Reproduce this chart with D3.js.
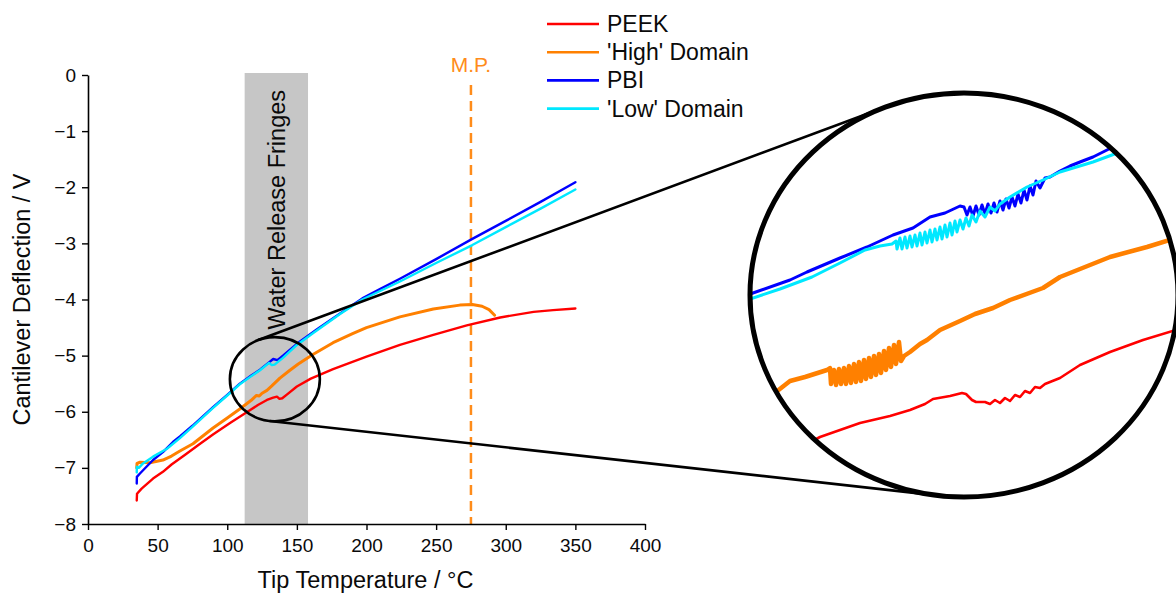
<!DOCTYPE html>
<html><head><meta charset="utf-8">
<script src="https://cdn.jsdelivr.net/npm/d3@7/dist/d3.min.js"></script>
<style>
html,body{margin:0;padding:0;background:#fff;}
svg{display:block;font-family:"Liberation Sans",Arial,sans-serif;}
</style></head><body>
<svg id="chart" width="1176" height="594"></svg>
<script>
// ---------- data ----------
const seriesNames = ["PEEK", "'High' Domain", "PBI", "'Low' Domain"];
const seriesColors = ["#ff0000", "#ff8000", "#0000ff", "#00e8ff"];
const xTicks = [0, 50, 100, 150, 200, 250, 300, 350, 400];
const yTicks = [0, -1, -2, -3, -4, -5, -6, -7, -8];
const fringeBand = [112.5, 158];
const meltingPoint = 275;
const zoomCenter = [134.2, -5.42];
const zoomRadius = [32.3, 0.75];
const insetDomainT = [113, 155.8];
const insetDomainV = [-4.4, -6.42];

const peek = [[35.0,-7.58],[35.2,-7.46],[38.5,-7.37],[46.7,-7.19],[53.8,-7.07],[60,-6.94],[70,-6.76],[80,-6.58],[90,-6.40],[102,-6.20],[114,-6.01],[122,-5.88],[128.5,-5.79],[133,-5.75],[135.7,-5.73],[137.5,-5.77],[139.5,-5.76],[143,-5.69],[150,-5.55],[160,-5.41],[176,-5.24],[200,-5.02],[224,-4.81],[248,-4.63],[272,-4.46],[296,-4.32],[320,-4.22],[334,-4.19],[350,-4.16]];
const highDomain = [[35.0,-7.00],[35.2,-6.92],[37.3,-6.90],[44.5,-6.91],[53.8,-6.86],[60,-6.79],[66,-6.70],[75.4,-6.57],[89.8,-6.29],[100,-6.11],[109,-5.95],[117,-5.80],[121,-5.71],[123,-5.72],[125,-5.67],[128.5,-5.62],[132,-5.54],[137.8,-5.40],[145,-5.26],[151,-5.15],[161.5,-4.98],[176,-4.77],[190,-4.61],[200,-4.50],[224,-4.31],[248,-4.17],[267,-4.10],[276,-4.09],[283,-4.12],[288,-4.18],[292,-4.28]];
const pbi = [[35.0,-7.28],[35.1,-7.16],[37.3,-7.10],[46.7,-6.86],[53.8,-6.72],[61,-6.54],[66,-6.44],[75,-6.25],[89.8,-5.92],[100,-5.70],[109,-5.50],[117,-5.36],[123.5,-5.25],[130,-5.12],[133,-5.06],[136,-5.08],[140,-5.00],[150,-4.79],[165,-4.52],[181,-4.25],[197,-3.98],[210,-3.81],[224,-3.63],[250,-3.28],[276,-2.92],[300,-2.60],[325,-2.26],[350,-1.91]];
const lowDomain = [[35.0,-7.08],[35.1,-6.98],[36.5,-7.00],[39.5,-6.92],[46.7,-6.80],[56.7,-6.66],[66,-6.47],[75,-6.27],[89.8,-5.93],[100,-5.71],[109,-5.51],[117,-5.37],[123.5,-5.26],[130,-5.13],[132,-5.17],[134,-5.16],[136,-5.12],[140,-5.04],[150,-4.81],[161.5,-4.60],[181,-4.26],[197,-4.00],[224,-3.68],[250,-3.35],[276,-3.03],[300,-2.71],[325,-2.38],[350,-2.04]];

// magnified view (inset) traces
const peekZoom = [[117.0,-6.20],[120.0,-6.12],[124.0,-6.05],[127.0,-6.015],[129.0,-5.985],[130.5,-5.955],[131.3,-5.93],[133.0,-5.915],[134.2,-5.90],[134.6,-5.905],[135.2,-5.935],[135.6,-5.945],[136.5,-5.945],[137.0,-5.955],[137.5,-5.935],[138.0,-5.95],[138.5,-5.925],[139.0,-5.94],[139.5,-5.91],[140.0,-5.92],[140.5,-5.89],[141.0,-5.90],[141.5,-5.87],[142.0,-5.875],[142.5,-5.855],[144.0,-5.825],[146.0,-5.76],[149.0,-5.695],[152.3,-5.635],[155.6,-5.585],[156.5,-5.57]];
const highZoom = [[114.0,-5.93],[115.6,-5.895],[117.0,-5.84],[118.5,-5.82],[120.7,-5.785],[121.0,-5.775],[121.1,-5.855],[121.4,-5.785],[121.6,-5.86],[121.9,-5.78],[122.1,-5.855],[122.4,-5.775],[122.6,-5.855],[122.9,-5.765],[123.1,-5.85],[123.4,-5.755],[123.6,-5.845],[123.9,-5.745],[124.1,-5.84],[124.4,-5.735],[124.6,-5.83],[124.9,-5.725],[125.1,-5.82],[125.4,-5.715],[125.6,-5.81],[125.9,-5.705],[126.1,-5.80],[126.4,-5.69],[126.6,-5.785],[126.9,-5.675],[127.1,-5.77],[127.4,-5.66],[127.6,-5.755],[127.9,-5.645],[128.1,-5.74],[128.4,-5.715],[129.0,-5.695],[130.0,-5.655],[130.7,-5.635],[132.0,-5.585],[134.0,-5.54],[135.5,-5.505],[137.3,-5.475],[139.0,-5.435],[142.3,-5.375],[144.0,-5.32],[146.0,-5.28],[149.0,-5.22],[152.7,-5.17],[155.6,-5.125],[156.5,-5.11]];
const pbiZoom = [[112.8,-5.41],[113.3,-5.40],[117.0,-5.335],[118.7,-5.295],[122.0,-5.225],[124.7,-5.17],[127.3,-5.11],[129.3,-5.075],[131.0,-5.02],[132.5,-5.00],[134.0,-4.965],[134.4,-4.97],[134.7,-5.01],[135.0,-4.97],[135.3,-5.015],[135.6,-4.965],[135.9,-5.01],[136.2,-4.96],[136.5,-5.005],[136.8,-4.955],[137.1,-5.00],[137.4,-4.95],[137.7,-4.995],[138.0,-4.94],[138.3,-4.985],[138.6,-4.93],[138.9,-4.975],[139.2,-4.92],[139.5,-4.965],[139.8,-4.905],[140.1,-4.95],[140.4,-4.885],[140.7,-4.935],[141.0,-4.865],[141.3,-4.91],[141.6,-4.84],[142.0,-4.875],[142.5,-4.825],[143.0,-4.82],[144.0,-4.79],[145.0,-4.765],[146.0,-4.745],[147.3,-4.72],[148.5,-4.69],[149.3,-4.67],[150.0,-4.655]];
const lowZoom = [[112.8,-5.435],[113.0,-5.43],[116.0,-5.38],[119.2,-5.32],[122.0,-5.25],[124.5,-5.185],[126.0,-5.165],[127.2,-5.155],[127.6,-5.14],[127.7,-5.18],[128.0,-5.125],[128.2,-5.18],[128.5,-5.12],[128.7,-5.175],[129.0,-5.115],[129.2,-5.17],[129.5,-5.11],[129.7,-5.165],[130.0,-5.10],[130.2,-5.16],[130.5,-5.095],[130.7,-5.15],[131.0,-5.085],[131.2,-5.145],[131.5,-5.08],[131.7,-5.135],[132.0,-5.07],[132.2,-5.13],[132.5,-5.06],[132.7,-5.12],[133.0,-5.05],[133.2,-5.11],[133.5,-5.04],[133.7,-5.095],[134.0,-5.035],[134.3,-5.08],[134.6,-5.025],[134.9,-5.065],[135.2,-5.01],[135.6,-5.045],[136.0,-4.99],[136.5,-5.02],[137.0,-4.97],[137.5,-4.99],[138.0,-4.955],[139.0,-4.92],[140.7,-4.87],[142.3,-4.835],[144.0,-4.795],[147.3,-4.745],[150.0,-4.695],[151.5,-4.665]];

// ---------- layout ----------
const svg = d3.select("#chart");
const plot = {left: 88, right: 645, top: 75, bottom: 524};
const inset = {cx: 964, cy: 295, rx: 214, ry: 202};
const black = "#000";
const textCol = "#0a0a0a";

const x = d3.scaleLinear().domain([0, 400]).range([plot.left, plot.right]);
const y = d3.scaleLinear().domain([-8, 0]).range([plot.bottom, plot.top]);
const xi = d3.scaleLinear().domain(insetDomainT).range([inset.cx - inset.rx, inset.cx + inset.rx]);
const yi = d3.scaleLinear().domain(insetDomainV).range([inset.cy - inset.ry, inset.cy + inset.ry]);

// gray band
svg.append("rect")
  .attr("x", x(fringeBand[0])).attr("width", x(fringeBand[1]) - x(fringeBand[0]))
  .attr("y", y(0) - 2).attr("height", y(-8) - y(0) + 2)
  .attr("fill", "#c6c6c6");
svg.append("text")
  .attr("transform", `translate(${x((fringeBand[0] + fringeBand[1]) / 2) + 1},${y(-2.4)}) rotate(-90)`)
  .attr("text-anchor", "middle").attr("dominant-baseline", "central")
  .attr("font-size", 23.5).attr("fill", textCol).text("Water Release Fringes");

// melting point line
svg.append("line")
  .attr("x1", x(meltingPoint)).attr("x2", x(meltingPoint))
  .attr("y1", y(-0.18)).attr("y2", y(-8))
  .attr("stroke", "#ff8c1a").attr("stroke-width", 2.5).attr("stroke-dasharray", "10,6");
svg.append("text").attr("x", x(meltingPoint)).attr("y", y(0) - 3)
  .attr("text-anchor", "middle").attr("font-size", 21).attr("fill", "#ff8c1a").text("M.P.");

// axes
const gx = svg.append("g").attr("transform", `translate(0,${plot.bottom})`);
gx.call(d3.axisBottom(x).tickValues(d3.range(25, 400, 50)).tickSize(3.5).tickSizeOuter(0).tickFormat(""));
gx.call(d3.axisBottom(x).tickValues(xTicks).tickSize(6).tickPadding(9).tickSizeOuter(0).tickFormat(d3.format("d")));
const gy = svg.append("g").attr("transform", `translate(${plot.left},0)`);
gy.call(d3.axisLeft(y).tickValues(d3.range(-7.5, 0, 1)).tickSize(3.5).tickSizeOuter(0).tickFormat(""));
gy.call(d3.axisLeft(y).tickValues(yTicks).tickSize(6).tickPadding(6).tickSizeOuter(0).tickFormat(d3.format("d")));
svg.selectAll(".domain").attr("stroke", black).attr("stroke-width", 1.6);
svg.selectAll(".tick line").attr("stroke", black).attr("stroke-width", 1.4);
svg.selectAll(".tick text").attr("font-size", 19).attr("fill", textCol).attr("font-family", "Liberation Sans, Arial, sans-serif");

svg.append("text").attr("x", (plot.left + plot.right) / 2 - 1).attr("y", 588)
  .attr("text-anchor", "middle").attr("font-size", 23.5).attr("fill", textCol).text("Tip Temperature / °C");
svg.append("text").attr("transform", `translate(22,${(plot.top + plot.bottom) / 2}) rotate(-90)`)
  .attr("text-anchor", "middle").attr("dominant-baseline", "central")
  .attr("font-size", 23.5).attr("fill", textCol).text("Cantilever Deflection / V");

// curves
const line = d3.line().x(d => x(d[0])).y(d => y(d[1])).curve(d3.curveLinear);
const mainSeries = [peek, highDomain, pbi, lowDomain];
const mainWidths = [2.4, 3, 2.4, 2.4];
mainSeries.forEach((s, i) => {
  svg.append("path").datum(s).attr("d", line).attr("fill", "none")
    .attr("stroke", seriesColors[i]).attr("stroke-width", mainWidths[i])
    .attr("stroke-linejoin", "round").attr("stroke-linecap", "round");
});

// magnifier: small ellipse, tangents, inset
const small = {
  cx: x(zoomCenter[0]), cy: y(zoomCenter[1]),
  rx: x(zoomCenter[0] + zoomRadius[0]) - x(zoomCenter[0]),
  ry: y(zoomCenter[1] - zoomRadius[1]) - y(zoomCenter[1])
};
function support(e, th) {
  const c = Math.cos(th), s = Math.sin(th);
  const r = Math.sqrt(e.rx * e.rx * c * c + e.ry * e.ry * s * s);
  return {h: e.cx * c + e.cy * s + r, x: e.cx + e.rx * e.rx * c / r, y: e.cy + e.ry * e.ry * s / r};
}
const f = th => support(inset, th).h - support(small, th).h;
const N = 3600, roots = [];
for (let k = 0; k < N; k++) {
  let a = -Math.PI + 2 * Math.PI * k / N, b = a + 2 * Math.PI / N;
  if (f(a) * f(b) <= 0) {
    for (let j = 0; j < 50; j++) { const m = (a + b) / 2; if (f(a) * f(m) <= 0) b = m; else a = m; }
    roots.push((a + b) / 2);
  }
}
roots.forEach(th => {
  const p1 = support(small, th), p2 = support(inset, th);
  svg.append("line").attr("x1", p1.x).attr("y1", p1.y).attr("x2", p2.x).attr("y2", p2.y)
    .attr("stroke", black).attr("stroke-width", 2.6);
});
svg.append("ellipse").attr("cx", small.cx).attr("cy", small.cy).attr("rx", small.rx).attr("ry", small.ry)
  .attr("fill", "none").attr("stroke", black).attr("stroke-width", 2.6);

const defs = svg.append("defs");
defs.append("clipPath").attr("id", "insetClip").append("ellipse")
  .attr("cx", inset.cx).attr("cy", inset.cy).attr("rx", inset.rx).attr("ry", inset.ry);
svg.append("ellipse").attr("cx", inset.cx).attr("cy", inset.cy).attr("rx", inset.rx).attr("ry", inset.ry)
  .attr("fill", "#fff");
const gi = svg.append("g").attr("clip-path", "url(#insetClip)");
const lineI = d3.line().x(d => xi(d[0])).y(d => yi(d[1]));
const zoomSeries = [peekZoom, highZoom, pbiZoom, lowZoom];
const zoomWidths = [2.6, 4.5, 3, 3];
zoomSeries.forEach((s, i) => {
  gi.append("path").datum(s).attr("d", lineI).attr("fill", "none")
    .attr("stroke", seriesColors[i]).attr("stroke-width", zoomWidths[i])
    .attr("stroke-linejoin", "round");
});
svg.append("ellipse").attr("cx", inset.cx).attr("cy", inset.cy).attr("rx", inset.rx).attr("ry", inset.ry)
  .attr("fill", "none").attr("stroke", black).attr("stroke-width", 5);

// legend
const legend = svg.append("g");
seriesNames.forEach((name, i) => {
  const ly = 24 + i * 28.2;
  legend.append("line").attr("x1", 547).attr("x2", 599).attr("y1", ly).attr("y2", ly)
    .attr("stroke", seriesColors[i]).attr("stroke-width", 2.6);
  legend.append("text").attr("x", 607).attr("y", ly).attr("dominant-baseline", "central")
    .attr("font-size", 23).attr("fill", textCol).text(name);
});
</script>
</body></html>
